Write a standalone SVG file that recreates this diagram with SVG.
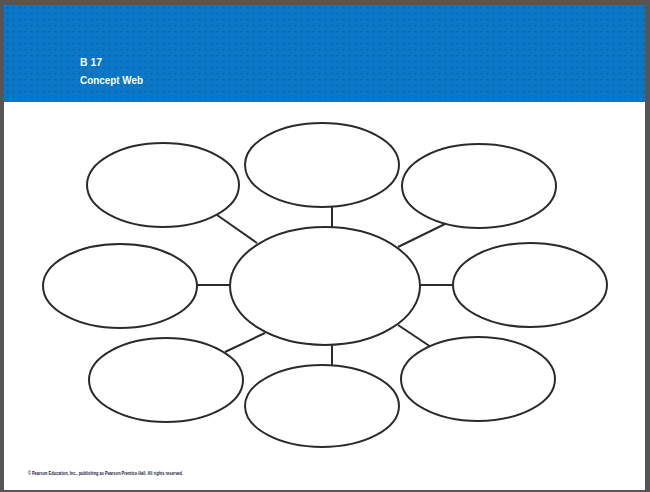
<svg xmlns="http://www.w3.org/2000/svg" width="650" height="492" viewBox="0 0 650 492">
  <defs>
    <pattern id="dots" width="6" height="6" patternUnits="userSpaceOnUse">
      <rect width="6" height="6" fill="#0a78c6"/>
      <circle cx="1.5" cy="1.5" r="0.8" fill="#0a4f9e" opacity="0.7"/>
    </pattern>
  </defs>
  <style>
    .node { fill: #ffffff; stroke: #2b2b2b; stroke-width: 2; }
    .conn line { stroke: #2b2b2b; stroke-width: 2; }
    .title { font-family: "Liberation Sans", Arial, sans-serif; font-weight: bold; fill: #ffffff; font-size: 11px; }
    .foot { font-family: "Liberation Sans", Arial, sans-serif; font-size: 5px; fill: #1a1a40; font-weight: bold; }
  </style>
  <rect x="0" y="0" width="650" height="492" fill="#555555"/>
  <rect x="4" y="5" width="641" height="485" fill="#ffffff"/>
  <rect x="4" y="5" width="641" height="97" fill="url(#dots)"/>
  <text class="title" x="80" y="66" textLength="22" lengthAdjust="spacingAndGlyphs">B 17</text>
  <text class="title" x="80" y="84" textLength="63" lengthAdjust="spacingAndGlyphs">Concept Web</text>

  <g id="connectors" class="conn">
    <line x1="332" y1="207" x2="332" y2="227"/>
    <line x1="197" y1="285" x2="230" y2="285"/>
    <line x1="420" y1="285" x2="454" y2="285"/>
    <line x1="332" y1="345" x2="332" y2="366"/>
    <line x1="217" y1="215" x2="257" y2="243"/>
    <line x1="398" y1="247" x2="447" y2="223"/>
    <line x1="265" y1="333" x2="225" y2="352"/>
    <line x1="398" y1="325" x2="431" y2="347"/>
  </g>

  <g id="center"><ellipse class="node" cx="325" cy="286" rx="95" ry="59"/></g>
  <g id="top-left"><ellipse class="node" cx="163" cy="185" rx="76" ry="42"/></g>
  <g id="top"><ellipse class="node" cx="322" cy="165" rx="77" ry="42"/></g>
  <g id="top-right"><ellipse class="node" cx="479" cy="186" rx="77" ry="42"/></g>
  <g id="left"><ellipse class="node" cx="120" cy="286" rx="77" ry="42"/></g>
  <g id="right"><ellipse class="node" cx="530" cy="285" rx="77" ry="42"/></g>
  <g id="bottom-left"><ellipse class="node" cx="166" cy="380" rx="77" ry="42"/></g>
  <g id="bottom"><ellipse class="node" cx="322" cy="406" rx="77" ry="41"/></g>
  <g id="bottom-right"><ellipse class="node" cx="478" cy="379" rx="77" ry="42"/></g>

  <text class="foot" x="28" y="475" textLength="155" lengthAdjust="spacingAndGlyphs">© Pearson Education, Inc., publishing as Pearson Prentice Hall. All rights reserved.</text>
</svg>
